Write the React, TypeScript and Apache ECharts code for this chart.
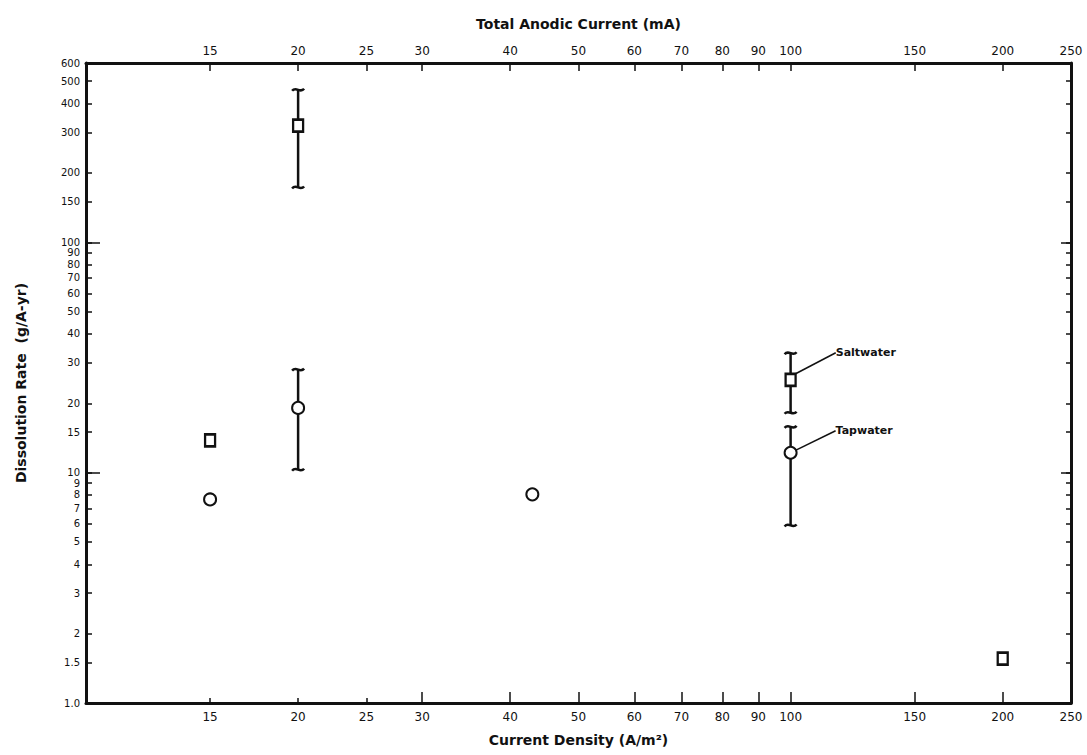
import React, { useEffect, useRef } from "react";
import * as echarts from "echarts";

// ---- data ----
const xTicks = [15, 20, 25, 30, 40, 50, 60, 70, 80, 90, 100, 150, 200, 250];
const xTicksShort = [15, 20, 25];
const xTicksLong = [30, 40, 50, 60, 70, 80, 90, 100, 150, 200];
const yTicks = [1, 1.5, 2, 3, 4, 5, 6, 7, 8, 9, 10, 15, 20, 30, 40, 50, 60, 70, 80, 90, 100, 150, 200, 300, 400, 500, 600];
const yTicksMajor = [10, 100];
const yLabelMap: Record<string, string> = { "1": "1.0", "1.5": "1.5" };

const saltDensity = [15, 20, 100, 200];
const saltRate = [13.8, 321, 25.3, 1.56];
const saltErrDensity = [20, 100];
const saltErrLow = [173, 18.2];
const saltErrHigh = [459, 33];

const tapDensity = [15, 20, 43, 100];
const tapRate = [7.65, 19.1, 8.05, 12.2];
const tapErrDensity = [20, 100];
const tapErrLow = [10.3, 5.9];
const tapErrHigh = [28, 15.8];

const INK = "#111";
const FONT = "DejaVu Sans";

export default function App() {
  const ref = useRef<HTMLDivElement>(null);
  useEffect(() => {
    document.body.style.margin = "0";
    const chart = echarts.init(ref.current!, null, { renderer: "svg" });

    const xBase = {
      type: "log",
      logBase: 10,
      min: 10,
      max: 250,
      splitLine: { show: false },
      minorTick: { show: false },
      minorSplitLine: { show: false },
    };
    const yBase = {
      type: "log",
      logBase: 10,
      min: 1,
      max: 600,
      splitLine: { show: false },
      minorTick: { show: false },
      minorSplitLine: { show: false },
    };
    const lineStyle = { color: INK, width: 3 };
    const tickStyle = { color: INK, width: 1.5 };
    const labelStyle = { color: INK, fontSize: 12, fontFamily: FONT };
    const yLabelStyle = { color: INK, fontSize: 10, fontFamily: FONT, lineHeight: 10 };
    const nameStyle = { color: INK, fontSize: 14, fontWeight: "bold", fontFamily: FONT };
    const xFmt = (v: number) => String(Math.round(v));
    const yFmt = (v: number) => {
      const key = String(Math.round(v * 1000) / 1000);
      return yLabelMap[key] ?? key;
    };

    const errSeries = (name: string, xs: number[], lo: number[], hi: number[]) => ({
      type: "custom",
      name,
      xAxisIndex: 0,
      yAxisIndex: 0,
      z: 2,
      data: xs.map((x, i) => [x, lo[i], hi[i]]),
      encode: { x: 0, y: [1, 2] },
      renderItem: (_p: any, api: any) => {
        const x = api.value(0);
        const pl = api.coord([x, api.value(1)]);
        const ph = api.coord([x, api.value(2)]);
        const style = { stroke: INK, lineWidth: 2.5, fill: "none" };
        const cap = (p: number[]) => ({
          type: "bezierCurve",
          shape: {
            x1: p[0] - 6, y1: p[1] + 1,
            cpx1: p[0] - 2, cpy1: p[1] - 4,
            cpx2: p[0] + 2, cpy2: p[1] + 4,
            x2: p[0] + 6, y2: p[1] - 1,
          },
          style,
        });
        return {
          type: "group",
          children: [
            { type: "line", shape: { x1: pl[0], y1: pl[1], x2: ph[0], y2: ph[1] }, style },
            cap(pl),
            cap(ph),
          ],
        };
      },
    });

    const annLabel = (text: string) => ({
      show: true,
      formatter: text,
      position: "right",
      color: INK,
      fontSize: 11,
      fontWeight: "bold",
      fontFamily: FONT,
    });

    chart.setOption({
      animation: false,
      backgroundColor: "#fff",
      grid: { left: 86, right: 16, top: 63, bottom: 52, containLabel: false, outerBoundsMode: "none" },
      xAxis: [
        {
          ...xBase,
          position: "bottom",
          name: "Current Density (A/m²)",
          nameLocation: "middle",
          nameGap: 30,
          nameTextStyle: nameStyle,
          axisLine: { show: true, onZero: false, lineStyle },
          axisTick: { show: true, inside: true, length: 11, customValues: xTicksLong, lineStyle: tickStyle },
          axisLabel: { show: true, customValues: xTicks, formatter: xFmt, margin: 8, ...labelStyle },
        },
        {
          ...xBase,
          position: "top",
          name: "Total Anodic Current (mA)",
          nameLocation: "middle",
          nameGap: 32,
          nameTextStyle: nameStyle,
          axisLine: { show: true, onZero: false, lineStyle },
          axisTick: { show: true, inside: true, length: 8, customValues: xTicks.slice(0, -1), lineStyle: tickStyle },
          axisLabel: { show: true, customValues: xTicks, formatter: xFmt, margin: 6, ...labelStyle },
        },
        {
          ...xBase,
          position: "bottom",
          axisLine: { show: false },
          axisTick: { show: true, inside: true, length: 5, customValues: xTicksShort, lineStyle: tickStyle },
          axisLabel: { show: false },
        },
      ],
      yAxis: [
        {
          ...yBase,
          position: "left",
          name: "Dissolution Rate  (g/A-yr)",
          nameLocation: "middle",
          nameGap: 58,
          nameTextStyle: nameStyle,
          axisLine: { show: true, onZero: false, lineStyle },
          axisTick: { show: true, inside: true, length: 6, customValues: yTicks, lineStyle: tickStyle },
          axisLabel: { show: true, customValues: yTicks, formatter: yFmt, margin: 6, ...yLabelStyle },
        },
        {
          ...yBase,
          position: "left",
          axisLine: { show: false },
          axisTick: { show: true, inside: true, length: 14, customValues: yTicksMajor, lineStyle: tickStyle },
          axisLabel: { show: false },
        },
        {
          ...yBase,
          position: "right",
          axisLine: { show: true, onZero: false, lineStyle },
          axisTick: { show: true, inside: true, length: 5, customValues: yTicks.slice(0, -1), lineStyle: tickStyle },
          axisLabel: { show: false },
        },
        {
          ...yBase,
          position: "right",
          axisLine: { show: false },
          axisTick: { show: true, inside: true, length: 10, customValues: yTicksMajor, lineStyle: tickStyle },
          axisLabel: { show: false },
        },
      ],
      series: [
        errSeries("Saltwater range", saltErrDensity, saltErrLow, saltErrHigh),
        errSeries("Tapwater range", tapErrDensity, tapErrLow, tapErrHigh),
        {
          type: "scatter",
          name: "Saltwater",
          xAxisIndex: 0,
          yAxisIndex: 0,
          z: 3,
          symbol: "rect",
          symbolSize: [10, 12],
          itemStyle: { color: "#fff", borderColor: INK, borderWidth: 2.5, opacity: 1 },
          label: { show: false },
          labelLine: { show: true, smooth: 0.3, lineStyle: { color: INK, width: 1.5 } },
          labelLayout: (p: any) => (p.dataIndex === 2 ? { dx: 34, dy: -27 } : {}),
          data: saltDensity.map((x, i) =>
            x === 100 ? { value: [x, saltRate[i]], label: annLabel("Saltwater") } : [x, saltRate[i]]
          ),
        },
        {
          type: "scatter",
          name: "Tapwater",
          xAxisIndex: 0,
          yAxisIndex: 0,
          z: 3,
          symbol: "circle",
          symbolSize: 12,
          itemStyle: { color: "#fff", borderColor: INK, borderWidth: 2, opacity: 1 },
          label: { show: false },
          labelLine: { show: true, smooth: 0.3, lineStyle: { color: INK, width: 1.5 } },
          labelLayout: (p: any) => (p.dataIndex === 3 ? { dx: 33, dy: -22 } : {}),
          data: tapDensity.map((x, i) =>
            x === 100 ? { value: [x, tapRate[i]], label: annLabel("Tapwater") } : [x, tapRate[i]]
          ),
        },
      ],
    });
    return () => chart.dispose();
  }, []);
  return <div ref={ref} style={{ position: "absolute", left: 0, top: 0, width: 1087, height: 755 }} />;
}
